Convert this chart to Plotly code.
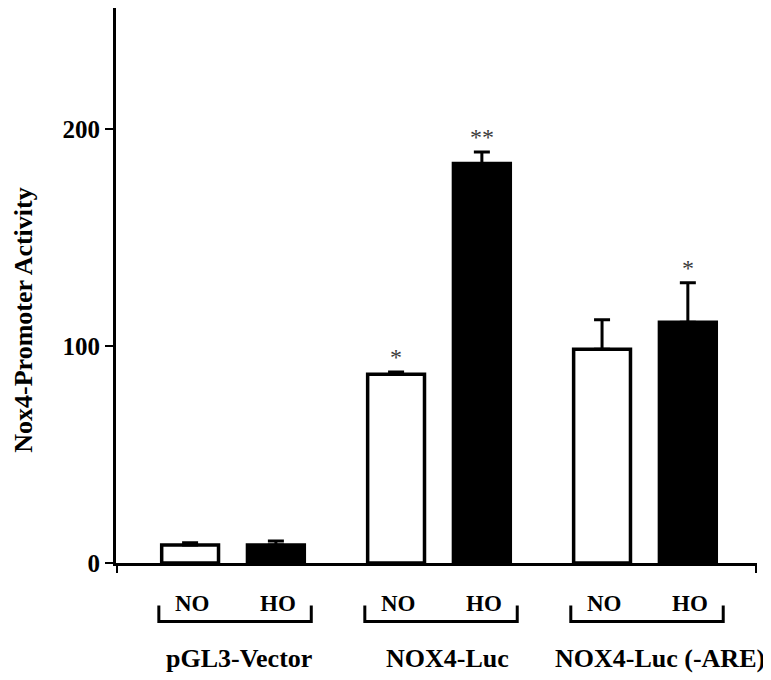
import plotly.graph_objects as go

# ---- data ----
groups = ["pGL3-Vector", "NOX4-Luc", "NOX4-Luc (-ARE)"]
conditions = ["NO", "HO"]
no_values = [8.3, 87.0, 98.5]
ho_values = [8.3, 184.1, 110.9]
no_err = [1.0, 1.0, 13.6]
ho_err = [1.8, 5.3, 18.2]
no_sig = ["", "*", ""]
ho_sig = ["", "**", "*"]
y_ticks = [0, 100, 200]
y_title = "Nox4-Promoter Activity"

# ---- style ----
FONT = "Liberation Serif, Times New Roman, serif"
BARGAP = 0.167
BAR_W = 0.276
X_RANGE = [-0.568, 2.544]
Y_MAX = 255.7
GROUP_LABEL_XSHIFT = [6, 9, 15]
x_idx = list(range(len(groups)))
slot = (1 - BARGAP) / 2
offsets = [-slot / 2, slot / 2]

fig = go.Figure()
series = [
    (no_values, no_err, "white"),
    (ho_values, ho_err, "black"),
]
for (vals, errs, col), name in zip(series, conditions):
    fig.add_trace(go.Bar(
        x=x_idx, y=vals, name=name, width=BAR_W,
        marker=dict(color=col, line=dict(color="black", width=3.5)),
        error_y=dict(type="data", array=errs, arrayminus=[0] * len(errs),
                     symmetric=False, color="black", thickness=3, width=8),
        showlegend=False,
    ))

annotations = []
# significance stars
for sigs, vals, errs, off in [(no_sig, no_values, no_err, offsets[0]),
                              (ho_sig, ho_values, ho_err, offsets[1])]:
    for i, s in enumerate(sigs):
        if s:
            annotations.append(dict(
                x=x_idx[i] + off, y=vals[i] + errs[i], xref="x", yref="y",
                text=s, showarrow=False, yanchor="middle", yshift=15,
                font=dict(family=FONT, size=24, color="#3a3a3a")))
# NO / HO labels
for i in x_idx:
    for c, off in zip(conditions, offsets):
        annotations.append(dict(
            x=i + off, y=0, xref="x", yref="y", text=c, showarrow=False,
            yanchor="middle", yshift=-40, xshift=2,
            font=dict(family=FONT, size=23, color="black", weight="bold")))
    annotations.append(dict(
        x=i, y=0, xref="x", yref="y", text=groups[i], showarrow=False,
        yanchor="middle", yshift=-95, xshift=GROUP_LABEL_XSHIFT[i],
        font=dict(family=FONT, size=26, color="black", weight="bold")))
# y title
annotations.append(dict(
    x=0, y=0.4365, xref="paper", yref="paper", text=y_title, showarrow=False,
    textangle=-90, xanchor="center", yanchor="middle", xshift=-92,
    font=dict(family=FONT, size=26, color="black", weight="bold")))

# brackets under groups
PLOT_H = 555.5
shapes = []
for i in x_idx:
    x0, x1 = i - 0.36, i + 0.38
    yt = -(606 - 563.5) / PLOT_H
    yb = -(622 - 563.5) / PLOT_H
    shapes.append(dict(
        type="path", xref="x", yref="paper",
        path=f"M {x0},{yt} L {x0},{yb} L {x1},{yb} L {x1},{yt}",
        line=dict(color="black", width=3)))

fig.update_layout(
    width=771, height=680,
    margin=dict(l=108, r=22, t=0, b=124.5, pad=0),
    paper_bgcolor="white", plot_bgcolor="white",
    barmode="group", bargap=BARGAP,
    annotations=annotations, shapes=shapes,
    xaxis=dict(range=X_RANGE, showgrid=False, zeroline=False,
               showline=True, linecolor="black", linewidth=3,
               tickmode="array", tickvals=[X_RANGE[0] + 0.005, X_RANGE[1] - 0.005],
               ticks="outside", ticklen=7, tickwidth=2, tickcolor="black",
               showticklabels=False),
    yaxis=dict(range=[0, Y_MAX], showgrid=False, zeroline=False,
               showline=True, linecolor="black", linewidth=3,
               tickmode="array", tickvals=y_ticks,
               ticks="outside", ticklen=8, tickwidth=2, tickcolor="black",
               tickfont=dict(family=FONT, size=25, color="black", weight="bold")),
)

fig.write_html("out.html")
